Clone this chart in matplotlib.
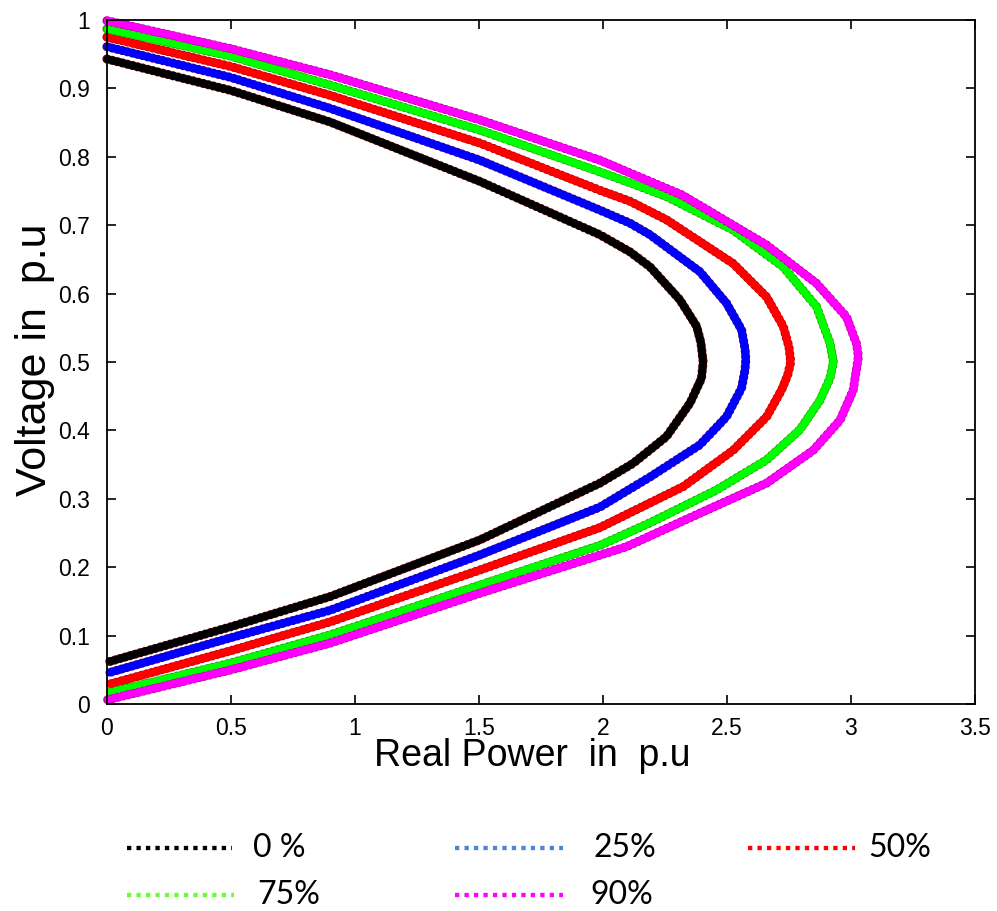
"""PV nose curves for several compensation levels, with a separate key below the axes."""

import matplotlib

matplotlib.use("Agg")
import matplotlib.pyplot as plt
from matplotlib.lines import Line2D

# (P, V) samples: upper branch, nose, lower branch
p_0 = [0, 0.5, 0.899, 1.504, 1.988, 2.109, 2.19, 2.31, 2.378, 2.395, 2.404,
       2.397, 2.351, 2.256, 2.122, 1.988, 1.504, 0.899, 0.5, 0]
v_0 = [0.943, 0.897, 0.851, 0.764, 0.686, 0.661, 0.639, 0.591, 0.552, 0.528, 0.500,
       0.476, 0.440, 0.391, 0.352, 0.323, 0.240, 0.157, 0.113, 0.061]

p_25 = [0, 0.5, 0.899, 1.504, 1.988, 2.109, 2.19, 2.391, 2.498, 2.559, 2.573, 2.576,
        2.573, 2.559, 2.498, 2.391, 2.19, 1.988, 1.504, 0.899, 0.5, 0]
v_25 = [0.961, 0.916, 0.871, 0.795, 0.722, 0.703, 0.686, 0.632, 0.586, 0.547, 0.519, 0.504,
        0.489, 0.462, 0.420, 0.379, 0.332, 0.288, 0.218, 0.137, 0.097, 0.045]

p_50 = [0, 0.5, 0.899, 1.504, 1.988, 2.109, 2.256, 2.525, 2.66, 2.727, 2.75, 2.757,
        2.745, 2.72, 2.66, 2.525, 2.324, 1.988, 1.504, 0.899, 0.5, 0]
v_50 = [0.975, 0.932, 0.890, 0.820, 0.751, 0.735, 0.708, 0.644, 0.595, 0.552, 0.522, 0.500,
        0.481, 0.459, 0.420, 0.371, 0.318, 0.258, 0.196, 0.120, 0.078, 0.028]

p_75 = [0, 0.5, 0.899, 1.504, 1.988, 2.109, 2.256, 2.525, 2.727, 2.861, 2.915, 2.929,
        2.915, 2.875, 2.794, 2.66, 2.458, 2.19, 1.988, 1.504, 0.899, 0.5, 0]
v_75 = [0.987, 0.947, 0.905, 0.839, 0.778, 0.762, 0.742, 0.693, 0.639, 0.581, 0.528, 0.500,
        0.476, 0.444, 0.401, 0.357, 0.313, 0.265, 0.232, 0.174, 0.101, 0.060, 0.016]

p_90 = [0, 0.5, 0.899, 1.504, 1.988, 2.32, 2.66, 2.861, 2.982, 3.022, 3.03,
        3.022, 3.009, 2.956, 2.848, 2.66, 2.391, 2.095, 1.504, 0.899, 0.5, 0]
v_90 = [0.999, 0.958, 0.920, 0.854, 0.795, 0.744, 0.671, 0.615, 0.566, 0.527, 0.508,
        0.489, 0.459, 0.415, 0.371, 0.323, 0.279, 0.230, 0.162, 0.089, 0.050, 0.006]

curve_colors = ["#000000", "#0000FF", "#FF0000", "#00FF00", "#FF00FF"]
edge_colors = ["#5A0000", "#3A0090", "#C00000", "#2E9A00", "#C0009A"]
legend_labels = ["0 %", "25%", "50%", "75%", "90%"]
legend_colors = ["#000000", "#4A86D6", "#FF0000", "#66FF33", "#FF00FF"]

x_ticks = [0, 0.5, 1, 1.5, 2, 2.5, 3, 3.5]
x_tick_labels = ["0", "0.5", "1", "1.5", "2", "2.5", "3", "3.5"]
y_ticks = [0, 0.1, 0.2, 0.3, 0.4, 0.5, 0.6, 0.7, 0.8, 0.9, 1]
y_tick_labels = ["0", "0.1", "0.2", "0.3", "0.4", "0.5", "0.6", "0.7", "0.8", "0.9", "1"]

fig = plt.figure(figsize=(9.97, 9.11), dpi=100)
ax = fig.add_axes([0.1073, 0.2272, 0.8706, 0.7508])

curves = [(p_0, v_0), (p_25, v_25), (p_50, v_50), (p_75, v_75), (p_90, v_90)]
for (p, v), c, ec in zip(curves, curve_colors, edge_colors):
    # thin darker rim, then overlapping round beads on top
    ax.plot(p, v, color=ec, lw=6.6, linestyle=(0, (0.02, 0.55)),
            dash_capstyle="round", solid_joinstyle="round", clip_on=False)
    ax.plot(p, v, color=c, lw=5.8, linestyle=(0.5, (0.02, 0.62)),
            dash_capstyle="round", solid_joinstyle="round", clip_on=False)

ax.set_xlim(0, 3.5)
ax.set_ylim(0, 1)
ax.set_xticks(x_ticks)
ax.set_xticklabels(x_tick_labels)
ax.set_yticks(y_ticks)
ax.set_yticklabels(y_tick_labels)
ax.tick_params(direction="in", length=6.5, width=1.2, top=True, right=True,
               labelsize=16.5)
ax.tick_params(axis="x", pad=9)
ax.tick_params(axis="y", pad=12)
for lbl in ax.get_xticklabels() + ax.get_yticklabels():
    lbl.set_family("Liberation Sans")
for s in ax.spines.values():
    s.set_linewidth(1.3)

xl = ax.set_xlabel("Real Power  in  p.u", fontsize=27, family="Liberation Sans")
xl.set_va("top")
ax.xaxis.set_label_coords(0.49, -0.050)
ax.set_ylabel("Voltage in  p.u", fontsize=31, family="Liberation Sans")
ax.yaxis.set_label_coords(-0.060, 0.503)

# key drawn as free-standing dotted strokes with labels
key_rows = [(848, [(127, 232, 253), (455, 563, 593), (748, 855, 868)]),
            (895, [(127, 234, 257), (455, 563, 590)])]
W, H = 997, 911
k = 0
for y_px, entries in key_rows:
    for x0, x1, xt in entries:
        yf = 1 - y_px / H
        fig.add_artist(Line2D([x0 / W, x1 / W], [yf, yf], transform=fig.transFigure,
                              color=legend_colors[k], lw=3.1, linestyle=(0, (1.0, 1.2)),
                              dash_capstyle="butt"))
        fig.text(xt / W, yf, legend_labels[k], fontsize=23, family="Lato",
                 va="center", ha="left")
        k += 1

fig.savefig("out.png", dpi=100)
